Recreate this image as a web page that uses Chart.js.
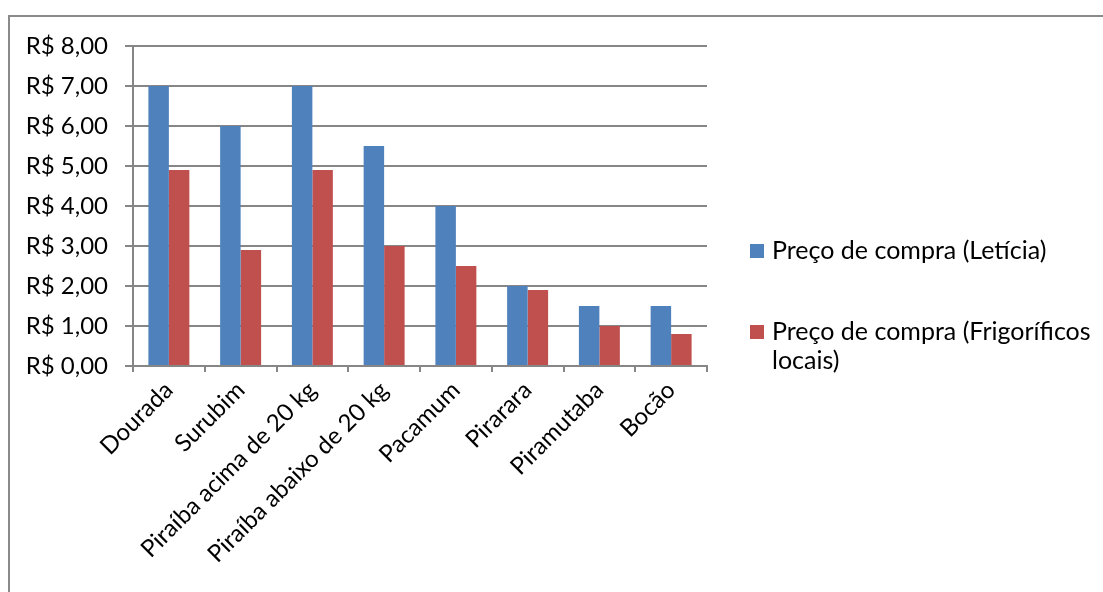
<!DOCTYPE html>
<html>
<head>
<meta charset="utf-8">
<script src="https://cdn.jsdelivr.net/npm/chart.js@4"></script>
<style>
  html, body { margin: 0; padding: 0; background: #fff; }
  #wrap { position: relative; width: 1103px; height: 592px; overflow: hidden; }
  #frame { position: absolute; left: 8px; top: 15px; width: 1200px; height: 700px;
           border-left: 2px solid #8a8a8a; border-top: 2px solid #8a8a8a; }
  canvas { position: absolute; left: 0; top: 0; }
</style>
</head>
<body>
<div id="wrap">
  <div id="frame"></div>
  <canvas id="chart" width="1103" height="592"></canvas>
</div>
<script>
const categories = ['Dourada', 'Surubim', 'Piraíba acima de 20 kg', 'Piraíba abaixo de 20 kg',
  'Pacamum', 'Pirarara', 'Piramutaba', 'Bocão'];
const seriesNames = ['Preço de compra (Letícia)', 'Preço de compra (Frigoríficos locais)'];
const leticia = [7.0, 6.0, 7.0, 5.5, 4.0, 2.0, 1.5, 1.5];
const frigorificos = [4.9, 2.9, 4.9, 3.0, 2.5, 1.9, 1.0, 0.8];
const seriesColors = ['#4F81BD', '#C0504D'];

const FONT = 'Lato, "Noto Sans", sans-serif';
const brl = v => 'R$ ' + v.toFixed(2).replace('.', ',');

// legend on the right, with wrapping like the original
const sideLegend = {
  id: 'sideLegend',
  afterDraw(chart) {
    const ctx = chart.ctx;
    ctx.save();
    ctx.font = '25px ' + FONT;
    ctx.textBaseline = 'middle';
    const maxW = 320;
    const lineH = 29;
    const starts = [251, 332];
    chart.data.datasets.forEach((ds, i) => {
      const words = ds.label.split(' ');
      const lines = [];
      let cur = '';
      words.forEach(w => {
        const t = cur ? cur + ' ' + w : w;
        if (ctx.measureText(t).width > maxW && cur) { lines.push(cur); cur = w; }
        else cur = t;
      });
      lines.push(cur);
      const y = starts[i];
      ctx.fillStyle = ds.backgroundColor;
      ctx.fillRect(750, y - 7, 14, 14);
      ctx.fillStyle = '#000';
      lines.forEach((l, k) => ctx.fillText(l, 772, y + k * lineH));
    });
    ctx.restore();
  }
};

new Chart(document.getElementById('chart'), {
  type: 'bar',
  data: {
    labels: categories,
    datasets: [
      { label: seriesNames[0], data: leticia, backgroundColor: seriesColors[0] },
      { label: seriesNames[1], data: frigorificos, backgroundColor: seriesColors[1] }
    ]
  },
  options: {
    responsive: false,
    animation: false,
    layout: { padding: { left: 0, top: 46, right: 396, bottom: 0 } },
    datasets: { bar: { categoryPercentage: 0.571, barPercentage: 1.0 } },
    plugins: { legend: { display: false }, tooltip: { enabled: false } },
    scales: {
      x: {
        grid: { drawOnChartArea: false, drawTicks: true, tickLength: 6, color: '#868686', lineWidth: 2 },
        border: { color: '#868686', width: 2 },
        ticks: { color: '#000', font: { family: FONT, size: 24 }, maxRotation: 45, minRotation: 45, padding: 4 },
        afterFit(scale) { scale.height = 226; }
      },
      y: {
        min: 0, max: 8,
        grid: { color: '#868686', lineWidth: 2, tickLength: 8 },
        border: { color: '#868686', width: 2 },
        ticks: { stepSize: 1, color: '#000', font: { family: FONT, size: 24 }, padding: 17,
                 callback: v => brl(v) },
        afterFit(scale) { scale.width = 133; }
      }
    }
  },
  plugins: [sideLegend]
});
</script>
</body>
</html>
